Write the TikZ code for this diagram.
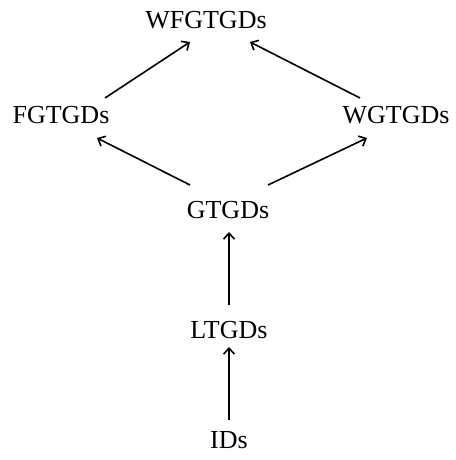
\documentclass[tikz,border=0pt]{standalone}
\usepackage{fontspec}
\setmainfont{Liberation Serif}
\usetikzlibrary{arrows.meta,calc}
\begin{document}
\begin{tikzpicture}[x=1pt,y=-1pt,
  cls/.style={anchor=base,inner sep=0pt,font=\fontsize{26}{30}\selectfont},
  sub/.style={draw,line width=1.6pt,-{Straight Barb[length=6pt,width=11pt,line width=1.6pt]}}]
  \useasboundingbox (0,0) rectangle (455,460);
  % the classes, placed by their baselines
  \node[cls] (wf) at (206,29) {WFGTGDs};
  \node[cls] (fg) at (61,123) {FGTGDs};
  \node[cls] (wg) at (396,123) {WGTGDs};
  \node[cls] (g)  at (228,218) {GTGDs};
  \node[cls] (l)  at (229,338) {LTGDs};
  \node[cls] (id) at (229,448) {IDs};
  % inclusion arrows
  \draw[sub] ($(fg.base)+(44,-25)$) -- ($(wf.base)+(-16,13)$);
  \draw[sub] ($(wg.base)+(-36,-25)$) -- ($(wf.base)+(44,13)$);
  \draw[sub] ($(g.base)+(-38,-33)$) -- ($(fg.base)+(36,15)$);
  \draw[sub] ($(g.base)+(40,-33)$) -- ($(wg.base)+(-29,15)$);
  \draw[sub] ($(l.base)+(0,-33)$) -- ($(g.base)+(1,14)$);
  \draw[sub] ($(id.base)+(0,-28)$) -- ($(l.base)+(0,9)$);
\end{tikzpicture}
\end{document}
